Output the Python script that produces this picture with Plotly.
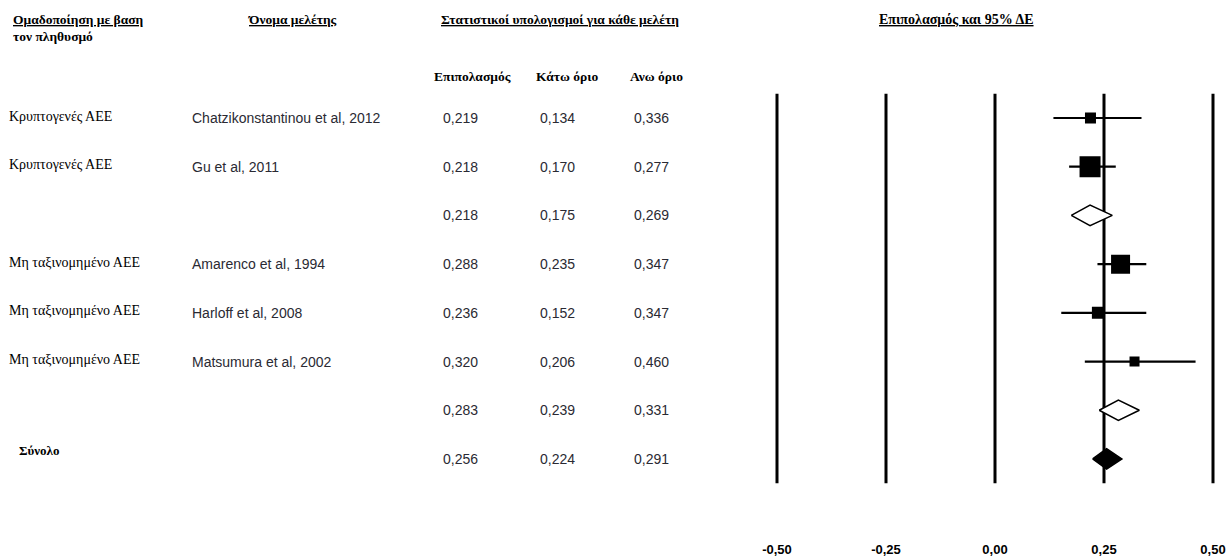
import plotly.graph_objects as go

# ---------------- data ----------------
groups = ["Κρυπτογενές ΑΕΕ", "Κρυπτογενές ΑΕΕ", "", "Μη ταξινομημένο ΑΕΕ",
          "Μη ταξινομημένο ΑΕΕ", "Μη ταξινομημένο ΑΕΕ", "", "Σύνολο"]
studies = ["Chatzikonstantinou et al, 2012", "Gu et al, 2011", "",
           "Amarenco et al, 1994", "Harloff et al, 2008", "Matsumura et al, 2002", "", ""]
kinds = ["study", "study", "subtotal", "study", "study", "study", "subtotal", "total"]
estimate = [0.219, 0.218, 0.218, 0.288, 0.236, 0.320, 0.283, 0.256]
lower = [0.134, 0.170, 0.175, 0.235, 0.152, 0.206, 0.239, 0.224]
upper = [0.336, 0.277, 0.269, 0.347, 0.347, 0.460, 0.331, 0.291]
marker_px = [11, 21, 0, 19, 12, 10, 0, 0]
rows = [1, 2, 3, 4, 5, 6, 7, 8]

tick_vals = [-0.50, -0.25, 0.00, 0.25, 0.50]
tick_text = ["-0,50", "-0,25", "0,00", "0,25", "0,50"]

col_headers = ["Επιπολασμός", "Κάτω όριο", "Ανω όριο"]

W, H = 1230, 560


def fmt(v):
    return f"{v:.3f}".replace(".", ",")


def px(x):
    return x / W


def py(y):
    return 1 - y / H


# axis geometry: -0.5 -> 777px, 0.5 -> 1213px
x_range = [-0.52, 0.52]
ppu = 436.0
x_left = 777 + (x_range[0] + 0.5) * ppu
x_right = 1213 + (x_range[1] - 0.5) * ppu
# y: row 1 -> 118px, spacing 48.71 px
row_px = 48.71
y_top = 1 - 118 / row_px
y_bot = 1 + (H - 118) / row_px

fig = go.Figure()

# vertical reference lines
vx, vy = [], []
for t in tick_vals:
    vx += [t, t, None]
    vy += [0.5, 8.5, None]
fig.add_trace(go.Scatter(x=vx, y=vy, mode="lines",
                         line=dict(color="black", width=3), hoverinfo="skip"))

# study squares with CI
s_idx = [i for i, k in enumerate(kinds) if k == "study"]
fig.add_trace(go.Scatter(
    x=[estimate[i] for i in s_idx], y=[rows[i] for i in s_idx], mode="markers",
    marker=dict(symbol="square", size=[marker_px[i] for i in s_idx], color="black",
                opacity=1, line=dict(width=0)),
    error_x=dict(type="data", symmetric=False,
                 array=[upper[i] - estimate[i] for i in s_idx],
                 arrayminus=[estimate[i] - lower[i] for i in s_idx],
                 width=0, thickness=2.2, color="black"),
))

# diamonds
half_h = 0.21
for i, k in enumerate(kinds):
    if k == "study":
        continue
    r = rows[i]
    fill = "white" if k == "subtotal" else "black"
    fig.add_trace(go.Scatter(
        x=[lower[i], estimate[i], upper[i], estimate[i], lower[i]],
        y=[r, r - half_h, r, r + half_h, r],
        mode="lines", fill="toself", fillcolor=fill,
        line=dict(color="black", width=1.5), hoverinfo="skip"))

ann = []
serif = "Liberation Serif, Times New Roman, serif"
sans = "Liberation Sans, Arial, sans-serif"

# headers
hfont = dict(family=serif, size=13.5, color="black")
ann.append(dict(x=px(11), y=py(20), xanchor="left", yanchor="middle",
                text="<b><u>Ομαδοποίηση με βαση</u></b>", font=hfont))
ann.append(dict(x=px(11), y=py(36), xanchor="left", yanchor="middle",
                text="<b>τον πληθυσμό</b>", font=hfont))
ann.append(dict(x=px(292), y=py(20), xanchor="center", yanchor="middle",
                text="<b><u>Όνομα μελέτης</u></b>", font=hfont))
ann.append(dict(x=px(560), y=py(20), xanchor="center", yanchor="middle",
                text="<b><u>Στατιστικοί υπολογισμοί για κάθε μελέτη</u></b>", font=hfont))
ann.append(dict(x=px(956), y=py(20), xanchor="center", yanchor="middle",
                text="<b><u>Επιπολασμός και 95% ΔΕ</u></b>",
                font=dict(family=serif, size=14, color="black")))
for cx, h in zip([472, 567, 656], col_headers):
    ann.append(dict(x=px(cx), y=py(77), xanchor="center", yanchor="middle",
                    text=f"<b>{h}</b>", font=hfont))

# rows
for i in range(len(rows)):
    r = rows[i]
    g = groups[i]
    if g:
        if kinds[i] == "total":
            ann.append(dict(x=px(17), y=r, yref="y", xanchor="left", yanchor="middle",
                            yshift=8, text=f"<b>{g}</b>",
                            font=dict(family=serif, size=13, color="black")))
        else:
            ann.append(dict(x=px(7), y=r, yref="y", xanchor="left", yanchor="middle",
                            yshift=2, text=g,
                            font=dict(family=serif, size=14, color="black")))
    if studies[i]:
        ann.append(dict(x=px(190), y=r, yref="y", xanchor="left", yanchor="middle",
                        text=studies[i], font=dict(family=sans, size=14, color="#2a2a33")))
    for cx, v in zip([460, 557, 652], [estimate[i], lower[i], upper[i]]):
        ann.append(dict(x=px(cx), y=r, yref="y", xanchor="center", yanchor="middle",
                        text=fmt(v), font=dict(family=sans, size=14, color="#2a2a33")))

for a in ann:
    a.setdefault("xref", "paper")
    a.setdefault("yref", "paper")
    a["showarrow"] = False

fig.update_layout(
    width=W, height=H, margin=dict(l=0, r=0, t=0, b=0, autoexpand=False),
    paper_bgcolor="white", plot_bgcolor="white", showlegend=False,
    annotations=ann,
    xaxis=dict(domain=[x_left / W, x_right / W], range=x_range, automargin=False,
               tickvals=tick_vals, ticktext=tick_text, showgrid=False, zeroline=False,
               showline=False, ticks="", anchor="free", position=0.036,
               tickfont=dict(family=sans, size=13, color="black", weight="bold")),
    yaxis=dict(domain=[0, 1], range=[y_bot, y_top], visible=False, automargin=False),
)

fig.write_html("out.html")
